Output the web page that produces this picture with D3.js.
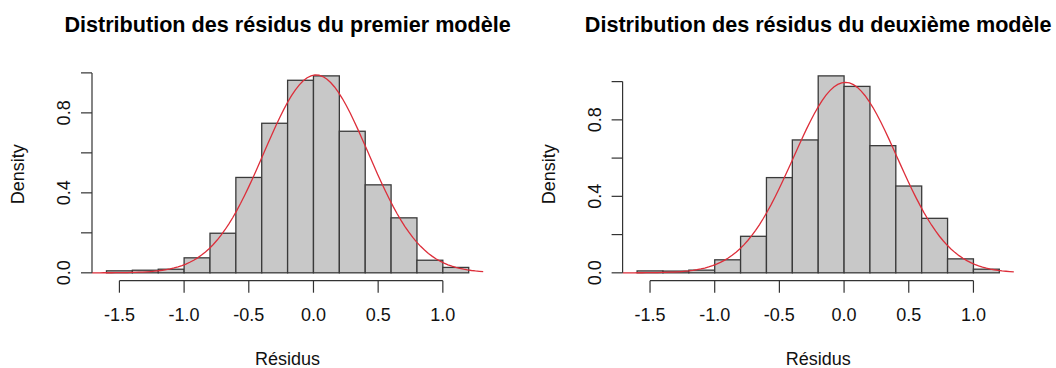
<!DOCTYPE html>
<html>
<head>
<meta charset="utf-8">
<script src="https://cdn.jsdelivr.net/npm/d3@7"></script>
<style>
  html, body { margin: 0; padding: 0; background: #fff; }
  svg { display: block; }
  text { font-family: "Liberation Sans", Arial, sans-serif; fill: #111; }
</style>
</head>
<body>
<svg id="chart" width="1056" height="368"></svg>
<script>
// Histogram bin edges shared by both models
const breaks = [-1.6, -1.4, -1.2, -1.0, -0.8, -0.6, -0.4, -0.2, 0.0, 0.2, 0.4, 0.6, 0.8, 1.0, 1.2];

// Density of residuals per bin, first model
const densityModel1 = [0.010, 0.013, 0.018, 0.075, 0.198, 0.477, 0.748, 0.963, 0.985, 0.708, 0.440, 0.275, 0.063, 0.027];
// Density of residuals per bin, second model
const densityModel2 = [0.010, 0.009, 0.014, 0.068, 0.191, 0.498, 0.695, 1.030, 0.975, 0.665, 0.454, 0.285, 0.073, 0.019];

// Fitted normal parameters (mean, sd) of each model's residuals
const normalModel1 = [0.02, 0.403];
const normalModel2 = [0.01, 0.4005];

// Axis ticks
const xTicks = [-1.5, -1.0, -0.5, 0.0, 0.5, 1.0];
const yTicks = [0.0, 0.2, 0.4, 0.6, 0.8, 1.0];
const yTickLabels = ["0.0", "", "0.4", "", "0.8", ""];

const titles = ["Distribution des résidus du premier modèle", "Distribution des résidus du deuxième modèle"];
const xLabel = "Résidus";
const yLabel = "Density";

const svg = d3.select("#chart");

const panels = [
  { left: 92, dens: densityModel1, norm: normalModel1, title: titles[0] },
  { left: 622.6, dens: densityModel2, norm: normalModel2, title: titles[1] }
];
const plotW = 391.2, plotTop = 68, plotBottom = 280.7;
const axisColor = "#333";

function dnorm(x, m, s) {
  return Math.exp(-0.5 * ((x - m) / s) ** 2) / (s * Math.sqrt(2 * Math.PI));
}

panels.forEach(p => {
  // plotting ranges padded by 4% on each side, as R does
  const xlim = d3.extent(breaks);
  const xpad = (xlim[1] - xlim[0]) * 0.04;
  const ymax = d3.max(p.dens);
  const ypad = ymax * 0.04;

  const x = d3.scaleLinear().domain([xlim[0] - xpad, xlim[1] + xpad]).range([p.left, p.left + plotW]);
  const y = d3.scaleLinear().domain([-ypad, ymax + ypad]).range([plotBottom, plotTop]);

  const g = svg.append("g");

  // bars
  const bins = p.dens.map((d, i) => ({ x0: breaks[i], x1: breaks[i + 1], d }));
  g.selectAll("rect.bar").data(bins).join("rect")
    .attr("class", "bar")
    .attr("x", b => x(b.x0))
    .attr("y", b => y(b.d))
    .attr("width", b => x(b.x1) - x(b.x0))
    .attr("height", b => y(0) - y(b.d))
    .attr("fill", "#c8c8c8")
    .attr("stroke", "#3a3a3a")
    .attr("stroke-width", 1.3);

  // normal density curve across the full plotting range
  const xs = d3.range(101).map(i => x.domain()[0] + i * (x.domain()[1] - x.domain()[0]) / 100);
  const line = d3.line().x(v => x(v)).y(v => y(dnorm(v, p.norm[0], p.norm[1])));
  g.append("path").datum(xs)
    .attr("d", line)
    .attr("fill", "none")
    .attr("stroke", "#dd2e3a")
    .attr("stroke-width", 1.3);

  // x axis
  const xa = g.append("g");
  xa.append("line")
    .attr("x1", x(xTicks[0])).attr("x2", x(xTicks[xTicks.length - 1]))
    .attr("y1", plotBottom).attr("y2", plotBottom)
    .attr("stroke", axisColor).attr("stroke-width", 1.2);
  xa.selectAll("line.tick").data(xTicks).join("line")
    .attr("class", "tick")
    .attr("x1", d => x(d)).attr("x2", d => x(d))
    .attr("y1", plotBottom).attr("y2", plotBottom + 12)
    .attr("stroke", axisColor).attr("stroke-width", 1.2);
  xa.selectAll("text").data(xTicks).join("text")
    .attr("x", d => x(d)).attr("y", 320.5)
    .attr("text-anchor", "middle")
    .style("font-size", "18px")
    .text(d => d3.format(".1f")(d).replace("−", "-"));

  // y axis
  const ya = g.append("g");
  const yAxisX = p.left;
  ya.append("line")
    .attr("x1", yAxisX).attr("x2", yAxisX)
    .attr("y1", y(yTicks[0])).attr("y2", y(yTicks[yTicks.length - 1]))
    .attr("stroke", axisColor).attr("stroke-width", 1.2);
  ya.selectAll("line.tick").data(yTicks).join("line")
    .attr("class", "tick")
    .attr("x1", yAxisX - 11).attr("x2", yAxisX)
    .attr("y1", d => y(d)).attr("y2", d => y(d))
    .attr("stroke", axisColor).attr("stroke-width", 1.2);
  ya.selectAll("text").data(yTicks.filter((d, i) => yTickLabels[i] !== "")).join("text")
    .attr("transform", d => `translate(${yAxisX - 22},${y(d)}) rotate(-90)`)
    .attr("text-anchor", "middle")
    .style("font-size", "18px")
    .text(d => yTickLabels[yTicks.indexOf(d)]);

  const cx = p.left + plotW / 2;

  // title
  g.append("text")
    .attr("x", cx).attr("y", 32.3)
    .attr("text-anchor", "middle")
    .style("font-size", "21.6px").style("font-weight", "bold")
    .style("fill", "#000")
    .text(p.title);

  // axis titles
  g.append("text")
    .attr("x", cx).attr("y", 365)
    .attr("text-anchor", "middle")
    .style("font-size", "18px")
    .text(xLabel);
  g.append("text")
    .attr("transform", `translate(${p.left - 68},${(plotTop + plotBottom) / 2}) rotate(-90)`)
    .attr("text-anchor", "middle")
    .style("font-size", "18px")
    .text(yLabel);
});
</script>
</body>
</html>
